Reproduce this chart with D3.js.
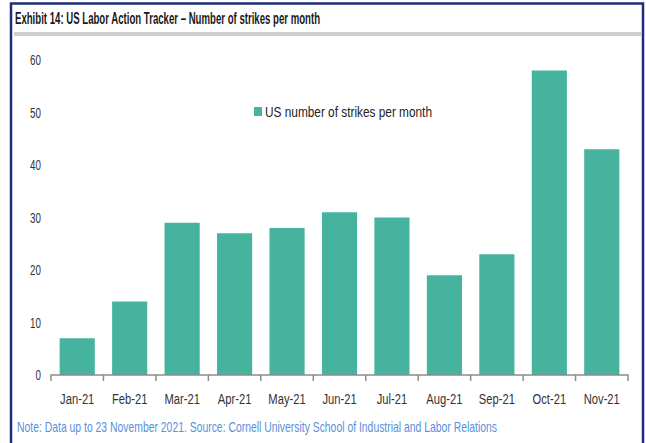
<!DOCTYPE html>
<html>
<head>
    <meta charset="utf-8">
    <style>
        body { margin: 0; background: white; overflow: hidden; }
        svg { display: block; }
        text { font-family: "Liberation Sans", Arial, sans-serif; }
        .title { font-size: 16px; font-weight: bold; fill: #1a1a1a; }
        .tick text { font-size: 14px; fill: #333; }
        .note { font-size: 14.5px; fill: #5b8fdc; }
        .legend { font-size: 15px; fill: #222; }
    </style>
    <script src="https://d3js.org/d3.v7.min.js"></script>
</head>
<body>
<script>
const months = ["Jan-21", "Feb-21", "Mar-21", "Apr-21", "May-21", "Jun-21",
                "Jul-21", "Aug-21", "Sep-21", "Oct-21", "Nov-21"];
const strikes = [7, 14, 29, 27, 28, 31, 30, 19, 23, 58, 43];
const yTicks = [0, 10, 20, 30, 40, 50, 60];

const width = 646, height = 443;
const barColor = "#45b39d";

const svg = d3.select("body").append("svg")
    .attr("width", width)
    .attr("height", height);

// the source uses a narrow font, squeeze the glyphs to match
function squeeze(sel, factor) {
    sel.each(function() {
        const w = this.getComputedTextLength();
        d3.select(this)
            .attr("textLength", w * factor)
            .attr("lengthAdjust", "spacingAndGlyphs");
    });
}

// frame
svg.append("rect")
    .attr("x", 11).attr("y", 3.5)
    .attr("width", 632).attr("height", 460)
    .attr("fill", "none")
    .attr("stroke", "#1c2f7a")
    .attr("stroke-width", 2.5);

svg.append("text")
    .attr("class", "title")
    .attr("x", 15).attr("y", 24)
    .text("Exhibit 14: US Labor Action Tracker \u2013 Number of strikes per month")
    .attr("textLength", 305)
    .attr("lengthAdjust", "spacingAndGlyphs");

svg.append("rect")
    .attr("x", 14).attr("y", 32)
    .attr("width", 628).attr("height", 4)
    .attr("fill", "#cfcfcf");

const x = d3.scaleBand()
    .domain(months)
    .range([51, 628])
    .paddingInner(0.33)
    .paddingOuter(0.165);

const y = d3.scaleLinear()
    .domain([0, 60])
    .range([375, 60]);

// bars
svg.append("g")
    .selectAll("rect")
    .data(months)
    .join("rect")
    .attr("x", d => x(d))
    .attr("y", (d, i) => y(strikes[i]))
    .attr("width", x.bandwidth())
    .attr("height", (d, i) => y(0) - y(strikes[i]))
    .attr("fill", barColor);

// y axis labels only
const yAxis = svg.append("g")
    .attr("transform", "translate(41,0)")
    .call(d3.axisLeft(y).tickValues(yTicks).tickSize(0).tickPadding(0));
yAxis.select(".domain").remove();
yAxis.selectAll("text").attr("dy", "0.35em").call(squeeze, 0.7);

// x axis with ticks between bands
const xAxis = svg.append("g")
    .attr("transform", `translate(0,${y(0)})`)
    .call(d3.axisBottom(x).tickSize(0).tickPadding(19));
xAxis.select(".domain")
    .attr("stroke", "#8c8c8c")
    .attr("stroke-width", 1.5)
    .attr("d", "M51,6V0H628V6");
xAxis.selectAll("text").call(squeeze, 0.8);

const step = x.step();
svg.append("g")
    .selectAll("line")
    .data(d3.range(1, months.length))
    .join("line")
    .attr("x1", i => 51 + i * step)
    .attr("x2", i => 51 + i * step)
    .attr("y1", y(0))
    .attr("y2", y(0) + 6)
    .attr("stroke", "#8c8c8c")
    .attr("stroke-width", 1.5);

// legend
svg.append("rect")
    .attr("x", 254).attr("y", 107)
    .attr("width", 8).attr("height", 9)
    .attr("fill", barColor);
svg.append("text")
    .attr("class", "legend")
    .attr("x", 265).attr("y", 117)
    .text("US number of strikes per month")
    .attr("textLength", 167)
    .attr("lengthAdjust", "spacingAndGlyphs");

svg.append("text")
    .attr("class", "note")
    .attr("x", 17).attr("y", 432)
    .text("Note: Data up to 23 November 2021. Source: Cornell University School of Industrial and Labor Relations")
    .attr("textLength", 480)
    .attr("lengthAdjust", "spacingAndGlyphs");
</script>
</body>
</html>
